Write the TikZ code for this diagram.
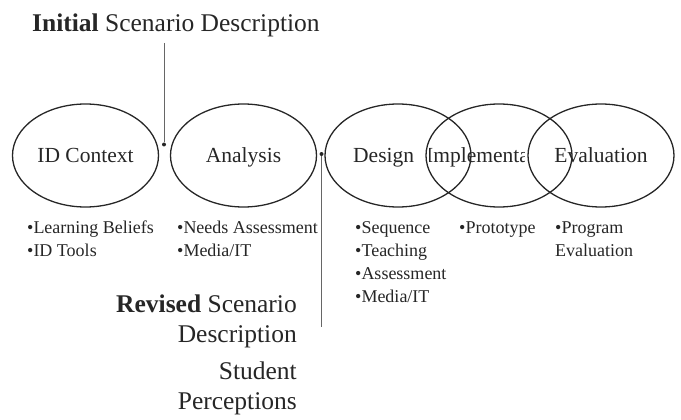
\documentclass[tikz,border=0pt]{standalone}
\usepackage{fontspec}
\setmainfont{Liberation Serif}
\usepackage{tikz}
\usetikzlibrary{shapes.geometric,positioning}

\begin{document}
\begin{tikzpicture}[x=1pt,y=1pt,yscale=-1,xscale=1,
    phase/.style={draw=black!85,line width=1.3pt,ellipse,inner sep=0pt,minimum width=146pt,minimum height=103pt,
        text=black!85,font=\fontsize{21.5}{24}\selectfont,text height=15pt,text depth=2pt},
    phaselabel/.style={inner sep=0pt,text=black!85,font=\fontsize{21.5}{24}\selectfont,anchor=base west},
    bullets/.style={anchor=base west,inner sep=0pt,align=left,text=black!85,font=\fontsize{18}{23}\selectfont},
    scenario/.style={inner sep=0pt,text=black!85,font=\fontsize{25.5}{30}\selectfont},
    link/.style={draw=black!60,line width=0.9pt},
    joint/.style={circle,fill=black!85,inner sep=0pt,minimum size=4pt}]
            \useasboundingbox (0,0) rectangle (681,420);

            %Shape: Ellipses of the phases
            \node [phase] (context) at (85.5,155.5) {ID Context};
            \node [phase] (analysis) at (243.5,155.5) {Analysis};
            \node [phase] (design) at (398,155.5) {};
            \node [phase] (implement) at (499,155.5) {};
            \node [phase] (evaluation) at (601,155.5) {Evaluation};
            % Text Node
            \node [phaselabel] (designlabel) at (353,162) {Design};
            % Text Node, cut off by its box
            \begin{scope}
                \clip (429,130) rectangle (524.5,180);
                \node [phaselabel] (implementlabel) at (426,162) {Implementation};
            \end{scope}

            % Text Node (base = last line)
            \node [bullets] (contextlist) at (27,256) {•Learning Beliefs\\•ID Tools};
            % Text Node
            \node [bullets] (analysislist) at (177,256) {•Needs Assessment\\•Media/IT};
            % Text Node
            \node [bullets] (designlist) at (355,302) {•Sequence\\•Teaching\\•Assessment\\•Media/IT};
            % Text Node
            \node [bullets] (implementlist) at (459,233) {•Prototype};
            % Text Node
            \node [bullets] (evaluationlist) at (555,256) {•Program\\Evaluation};

            % Text Node
            \node [scenario,anchor=base west] (initial) at (32,32) {\textbf{Initial} Scenario Description};
            % Text Node
            \node [scenario,anchor=base east,align=right] (revised) at (297,342) {\textbf{Revised} Scenario\\Description};
            % Text Node
            \node [scenario,anchor=base east,align=right] (student) at (297,409) {Student\\Perceptions};

            %Straight Lines
            \coordinate (initialfoot) at (164,43);
            \node [joint] (initialjoin) at (164,144.5) {};
            \draw [link] (initialfoot) -- (initialjoin);
            %Straight Lines
            \node [joint] (revisedjoin) at (321.5,154) {};
            \coordinate (revisedfoot) at (321.5,327);
            \draw [link] (revisedjoin) -- (revisedfoot);

        \end{tikzpicture}
\end{document}
